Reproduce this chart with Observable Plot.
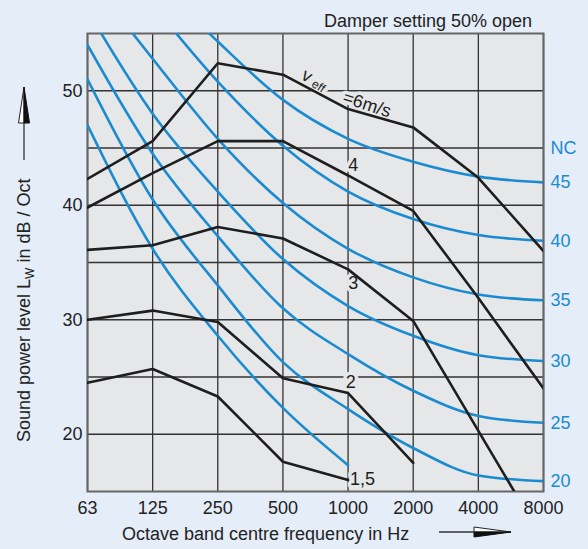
<!DOCTYPE html>
<html><head><meta charset="utf-8">
<script src="https://cdn.jsdelivr.net/npm/d3@7"></script>
<script src="https://cdn.jsdelivr.net/npm/@observablehq/plot@0.6"></script>
<style>
html,body{margin:0;padding:0;background:#e4edf8;}
#chart{width:588px;height:549px;}
</style></head><body><div id="chart"></div>
<script>
// Octave band centre frequencies (tick labels)
const freqLabels = ["63","125","250","500","1000","2000","4000","8000"];

// NC curves (dB), one value per octave band
const nc15 = [47, 36.2, 28.6, 22.3, 17.3];
const nc20 = [51, 40.5, 33.0, 26.3, 22.2, 18.8, 16.4, 15.9];
const nc25 = [54, 44.5, 37.3, 31.0, 27.0, 23.8, 21.6, 21.0];
const nc30 = [57, 48.0, 41.2, 35.3, 31.2, 28.6, 26.9, 26.4];
const nc35 = [60, 52.8, 45.8, 40.2, 36.2, 33.7, 32.2, 31.7];
const nc40 = [64.5, 57.5, 50.8, 45.2, 41.2, 38.8, 37.4, 36.9];
const nc45 = [67, 60.0, 54.3, 49.2, 45.8, 43.8, 42.5, 42.0];
const ncLabelLevels = [20, 25, 30, 35, 40, 45];

// Sound power level L_W for effective velocities (dB / Oct)
const v6  = [42.3, 45.6, 52.4, 51.4, 48.4, 46.8, 42.4, 36.0];
const v4  = [39.8, 42.8, 45.6, 45.6, 42.6, 39.5, 31.9, 24.0];
const v3  = [36.1, 36.5, 38.1, 37.1, 34.4, 29.9, 20.3, 10.7];
const v2  = [30.0, 30.8, 29.8, 24.9, 23.6, 17.5];
const v15 = [24.5, 25.7, 23.3, 17.6, 16.0];

const ncSeries = [[15,nc15],[20,nc20],[25,nc25],[30,nc30],[35,nc35],[40,nc40],[45,nc45]];
const vSeries = [["6",v6],["4",v4],["3",v3],["2",v2],["1,5",v15]];
const ncRows = ncSeries.flatMap(([nc, vals]) => vals.map((v, i) => ({nc, i, v})));
const vRows = vSeries.flatMap(([vel, vals]) => vals.map((v, i) => ({vel, i, v})));
const ncEnds = ncSeries.filter(([nc]) => ncLabelLevels.includes(nc))
  .map(([nc, vals]) => ({nc, i: vals.length - 1, v: vals[vals.length - 1]}));

// curve annotations (in chart units)
const annotations = [
  {t: "v", i: 3.37, v: 51.3, r: 30, s: 18},
  {t: "eff", i: 3.545, v: 50.4, r: 32, s: 12},
  {t: "=6m/s", i: 4.29, v: 48.8, r: 18, s: 18},
  {t: "4", i: 4.08, v: 43.5, r: 0, s: 18},
  {t: "3", i: 4.08, v: 33.2, r: 0, s: 18},
  {t: "2", i: 4.04, v: 24.5, r: 0, s: 18},
  {t: "1,5", i: 4.22, v: 16.1, r: 0, s: 18}
];

const FONT = "'Liberation Sans', Arial, Helvetica, sans-serif";
const PANEL = "#e6e7e9";
const BLUE = "#1b8bd1";
const INK = "#1e1e1e";

const chart = Plot.plot({
  width: 588, height: 549,
  marginLeft: 87, marginRight: 45, marginTop: 33, marginBottom: 58,
  style: {background: "transparent", fontFamily: FONT, fontSize: "18px", color: "#222", overflow: "visible"},
  x: {type: "linear", domain: [0, 7]},
  y: {domain: [15, 55]},
  marks: [
    Plot.frame({fill: PANEL, stroke: "none"}),
    Plot.gridX(d3.range(8), {stroke: "#333", strokeOpacity: 1, strokeWidth: 1.3}),
    Plot.gridY(d3.range(20, 55, 5), {stroke: "#333", strokeOpacity: 1, strokeWidth: 1.3}),
    Plot.text(annotations, {x: "i", y: "v", text: "t", rotate: "r", fontSize: d => d.s,
      fill: INK, stroke: PANEL, strokeWidth: 7, textAnchor: "middle", lineAnchor: "middle"}),
    Plot.frame({stroke: "#666", strokeWidth: 2}),
    Plot.line(ncRows, {x: "i", y: "v", z: "nc", curve: "monotone-x", stroke: BLUE, strokeWidth: 2.6, clip: true}),
    Plot.line(vRows, {x: "i", y: "v", z: "vel", stroke: INK, strokeWidth: 2.6, strokeLinejoin: "miter", clip: true}),
    Plot.text(ncEnds, {x: "i", y: "v", text: d => String(d.nc), dx: 7, textAnchor: "start", fill: BLUE, fontSize: 18}),
    Plot.text(ncEnds.filter(d => d.nc === 45), {x: "i", y: "v", text: () => "NC", dx: 7, dy: -34, textAnchor: "start", fill: BLUE, fontSize: 18}),
    Plot.axisX(d3.range(8), {tickSize: 0, tickPadding: 10, tickFormat: i => freqLabels[i], fontSize: 18, label: null}),
    Plot.axisY([20, 30, 40, 50], {tickSize: 0, tickPadding: 5, fontSize: 18, label: null})
  ]
});
document.getElementById("chart").appendChild(chart);

// titles and arrows
const svg = d3.select(chart);
const g = svg.append("g").attr("font-family", FONT).attr("fill", "#222").attr("text-anchor", "start");
g.append("text").attr("x", 324).attr("y", 27).attr("font-size", 18).text("Damper setting 50% open");
g.append("text").attr("x", 122).attr("y", 540).attr("font-size", 18).text("Octave band centre frequency in Hz");
const yt = g.append("text").attr("transform", "translate(30,442) rotate(-90)").attr("font-size", 18);
yt.append("tspan").text("Sound power level L");
yt.append("tspan").attr("font-size", 12).attr("dy", 4).text("W");
yt.append("tspan").attr("dy", -4).text(" in dB / Oct");

// x arrow
g.append("line").attr("x1", 439).attr("x2", 476).attr("y1", 532).attr("y2", 532).attr("stroke", "#333").attr("stroke-width", 1.3);
g.append("path").attr("d", "M474,527 L511,532 L474,532 Z").attr("fill", "#fff").attr("stroke", "#222").attr("stroke-width", 1);
g.append("path").attr("d", "M474,537 L511,532 L474,532 Z").attr("fill", "#111").attr("stroke", "#111").attr("stroke-width", 1);
// y arrow
g.append("line").attr("x1", 24).attr("x2", 24).attr("y1", 160).attr("y2", 121).attr("stroke", "#333").attr("stroke-width", 1.3);
g.append("path").attr("d", "M18.5,123 L24,87 L24,123 Z").attr("fill", "#fff").attr("stroke", "#222").attr("stroke-width", 1);
g.append("path").attr("d", "M29.5,123 L24,87 L24,123 Z").attr("fill", "#111").attr("stroke", "#111").attr("stroke-width", 1);
</script>
</body></html>
